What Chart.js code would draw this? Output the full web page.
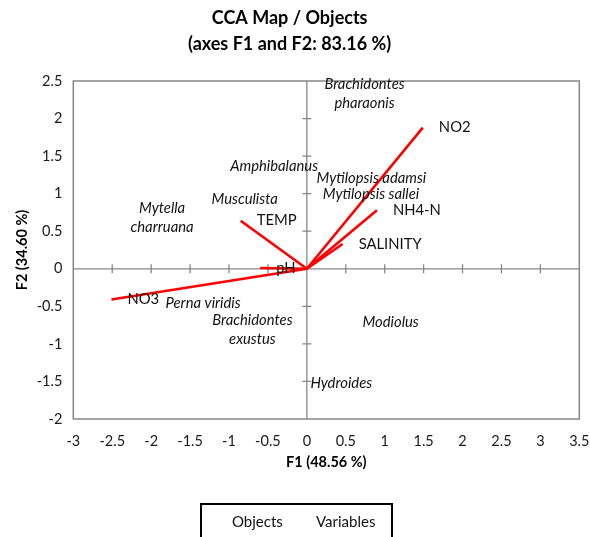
<!DOCTYPE html>
<html>
<head>
<meta charset="utf-8">
<script src="https://cdn.jsdelivr.net/npm/chart.js@4/dist/chart.umd.min.js"></script>
<style>
  html, body { margin: 0; padding: 0; background: #ffffff; }
  #wrap { width: 590px; height: 537px; }
</style>
</head>
<body>
<div id="wrap"><canvas id="c" width="590" height="537"></canvas></div>
<script>
// CCA biplot: species (objects) and environmental variables on F1/F2
const titleLines = ['CCA Map / Objects', '(axes F1 and F2: 83.16 %)'];
const xAxisTitle = 'F1 (48.56 %)';
const yAxisTitle = 'F2 (34.60 %)';
const xRange = [-3, 3.5];
const yRange = [-2, 2.5];
const tickStep = 0.5;

const objectNames = [
  ['Brachidontes', 'pharaonis'],
  ['Amphibalanus'],
  ['Mytilopsis adamsi'],
  ['Mytilopsis sallei'],
  ['Musculista'],
  ['Mytella', 'charruana'],
  ['Perna viridis'],
  ['Brachidontes', 'exustus'],
  ['Modiolus'],
  ['Hydroides']
];
const objectF1 = [0.02, -1.19, -0.08, 0.00, -1.43, -2.47, -2.02, -1.42, 0.51, -0.16];
const objectF2 = [2.33, 1.37, 1.20, 0.99, 0.93, 0.68, -0.46, -0.81, -0.71, -1.53];

const variableNames = ['NO2', 'NH4-N', 'SALINITY', 'TEMP', 'NO3', 'pH'];
const variableF1 = [1.49, 0.90, 0.46, -0.85, -2.51, -0.60];
const variableF2 = [1.88, 0.78, 0.33, 0.64, -0.41, 0.01];

const legendLabels = ['Objects', 'Variables'];

const FONT = 'Lato, "Open Sans", sans-serif';
const AXIS_GREY = '#878787';
const LABEL_GAP = 16;   // gap between a point and its label
const LINE_H = 19;      // line spacing of multi-line labels

const datasets = [{
  label: legendLabels[0],
  data: objectF1.map((v, i) => ({ x: v, y: objectF2[i] })),
  pointRadius: 0,
  pointHoverRadius: 0,
  showLine: false
}];
variableNames.forEach((name, i) => {
  datasets.push({
    label: i === 0 ? legendLabels[1] : name,
    data: [{ x: 0, y: 0 }, { x: variableF1[i], y: variableF2[i] }],
    showLine: true,
    borderColor: '#ff0000',
    borderWidth: 2.6,
    pointRadius: 0,
    pointHoverRadius: 0,
    fill: false
  });
});

// frame + axes through the origin with cross ticks
const originAxes = {
  id: 'originAxes',
  beforeDatasetsDraw(chart) {
    const { ctx, chartArea: a, scales: { x, y } } = chart;
    const x0 = x.getPixelForValue(0);
    const y0 = y.getPixelForValue(0);
    ctx.save();
    ctx.strokeStyle = AXIS_GREY;
    ctx.lineWidth = 1.5;
    ctx.strokeRect(a.left, a.top, a.right - a.left, a.bottom - a.top);
    ctx.lineWidth = 1.3;
    ctx.beginPath();
    ctx.moveTo(a.left, y0); ctx.lineTo(a.right, y0);
    ctx.moveTo(x0, a.top); ctx.lineTo(x0, a.bottom);
    x.ticks.forEach(t => {
      if (t.value <= xRange[0] || t.value >= xRange[1] || t.value === 0) return;
      const px = x.getPixelForValue(t.value);
      ctx.moveTo(px, y0 - 4.5); ctx.lineTo(px, y0 + 4.5);
    });
    y.ticks.forEach(t => {
      if (t.value <= yRange[0] || t.value >= yRange[1] || t.value === 0) return;
      const py = y.getPixelForValue(t.value);
      ctx.moveTo(x0 - 4.5, py); ctx.lineTo(x0 + 4.5, py);
    });
    ctx.stroke();
    ctx.restore();
  }
};

function drawBlock(ctx, lines, px, py) {
  const widths = lines.map(l => ctx.measureText(l).width);
  const bw = Math.max(...widths);
  const cx = px + LABEL_GAP + bw / 2;
  lines.forEach((l, j) => {
    ctx.fillText(l, cx, py + (j - (lines.length - 1) / 2) * LINE_H);
  });
}

// point labels: italic species names, upright variable names
const pointLabels = {
  id: 'pointLabels',
  afterDatasetsDraw(chart) {
    const { ctx, scales: { x, y } } = chart;
    ctx.save();
    ctx.fillStyle = '#111111';
    ctx.textAlign = 'center';
    ctx.textBaseline = 'middle';
    ctx.font = 'italic 14.8px ' + FONT;
    objectNames.forEach((lines, i) => {
      drawBlock(ctx, lines, x.getPixelForValue(objectF1[i]), y.getPixelForValue(objectF2[i]));
    });
    ctx.font = '14.8px ' + FONT;
    variableNames.forEach((name, i) => {
      drawBlock(ctx, [name], x.getPixelForValue(variableF1[i]), y.getPixelForValue(variableF2[i]));
    });
    ctx.restore();
  }
};

// boxed legend under the x axis title
const boxLegend = {
  id: 'boxLegend',
  afterDraw(chart) {
    const { ctx } = chart;
    const c = chart.width / 2 + 1.5;
    const top = 504;
    ctx.save();
    ctx.strokeStyle = '#000000';
    ctx.lineWidth = 2;
    ctx.strokeRect(c - 95.5, top, 191, 60);
    ctx.font = '15px ' + FONT;
    ctx.fillStyle = '#111111';
    ctx.textAlign = 'left';
    ctx.textBaseline = 'middle';
    ctx.fillText(legendLabels[0], c - 64.5, top + 18);
    ctx.fillText(legendLabels[1], c + 19.5, top + 18);
    ctx.restore();
  }
};

const tickText = v => String(Math.round(v * 100) / 100);

new Chart(document.getElementById('c'), {
  type: 'scatter',
  data: { datasets },
  plugins: [originAxes, pointLabels, boxLegend],
  options: {
    responsive: false,
    animation: false,
    events: [],
    layout: { padding: { left: 0, right: 10.7, top: 0, bottom: 62 } },
    plugins: {
      legend: { display: false },
      tooltip: { enabled: false },
      title: {
        display: true,
        text: titleLines,
        color: '#000000',
        font: { family: FONT, size: 18, weight: 'bold', lineHeight: 1.45 },
        padding: { top: 5.3, bottom: 23.5 }
      }
    },
    scales: {
      x: {
        type: 'linear',
        min: xRange[0],
        max: xRange[1],
        grid: { display: false, drawTicks: false },
        border: { display: false },
        ticks: {
          stepSize: tickStep,
          padding: 14,
          color: '#1a1a1a',
          font: { family: FONT, size: 14.5 },
          callback: tickText
        },
        title: {
          display: true,
          text: xAxisTitle,
          color: '#000000',
          font: { family: FONT, size: 14.5, weight: 'bold' },
          padding: { top: 0, bottom: 4 }
        },
        afterFit(s) { s.height = 56; s.paddingLeft = 0; s.paddingRight = 0; }
      },
      y: {
        type: 'linear',
        min: yRange[0],
        max: yRange[1],
        grid: { display: false, drawTicks: false },
        border: { display: false },
        ticks: {
          stepSize: tickStep,
          padding: 11,
          color: '#1a1a1a',
          font: { family: FONT, size: 14.5 },
          callback: tickText
        },
        title: {
          display: true,
          text: yAxisTitle,
          color: '#000000',
          font: { family: FONT, size: 14.5, weight: 'bold' },
          padding: { top: 13.6, bottom: 0 }
        },
        afterFit(s) { s.width = 73.3; }
      }
    }
  }
});
</script>
</body>
</html>
